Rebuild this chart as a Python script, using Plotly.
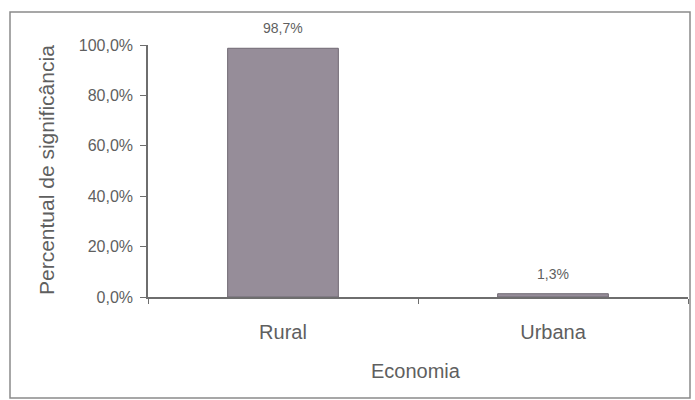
import plotly.graph_objects as go

# Data
categories = ["Rural", "Urbana"]
values = [98.7, 1.3]
value_labels = ["98,7%", "1,3%"]
y_ticks = [0, 20, 40, 60, 80, 100]
y_tick_labels = ["0,0%", "20,0%", "40,0%", "60,0%", "80,0%", "100,0%"]

W, H = 695, 400
L, R, T, B = 148, 7, 45, 103  # plot-area margins (px)
PW, PH = W - L - R, H - T - B

def px_x(x):
    return (x - L) / PW

def px_y(y):
    return (H - B - y) / PH

font_family = "Liberation Sans, Arial, sans-serif"
text_col = "#5f5f5f"
axis_col = "#6e6e6e"

fig = go.Figure()
fig.add_trace(go.Bar(
    x=categories,
    y=values,
    width=0.41,
    marker=dict(color="#968d99", line=dict(color="#6f6873", width=1)),
    hoverinfo="skip",
))

annotations = []
for c, v, t in zip(categories, values, value_labels):
    annotations.append(dict(
        x=c, y=v, xref="x", yref="y", text=t, showarrow=False,
        yanchor="bottom", yshift=10,
        font=dict(family=font_family, size=14, color=text_col),
    ))

# axis titles
annotations.append(dict(
    x=px_x(46), y=px_y(170), xref="paper", yref="paper",
    text="Percentual de significância", textangle=-90, showarrow=False,
    xanchor="center", yanchor="middle",
    font=dict(family=font_family, size=21, color=text_col),
))
annotations.append(dict(
    x=px_x(416), y=px_y(371), xref="paper", yref="paper",
    text="Economia", showarrow=False, xanchor="center", yanchor="middle",
    font=dict(family=font_family, size=20, color=text_col),
))

# outer chart frame
shapes = [dict(
    type="rect", xref="paper", yref="paper",
    x0=px_x(10), x1=px_x(690), y0=px_y(398), y1=px_y(12),
    line=dict(color="#8a8a8a", width=1.5), layer="below",
)]

fig.update_layout(
    width=W, height=H,
    margin=dict(l=L, r=R, t=T, b=B, pad=0),
    paper_bgcolor="white", plot_bgcolor="white",
    showlegend=False,
    bargap=0.59,
    annotations=annotations,
    shapes=shapes,
    xaxis=dict(
        type="category",
        showline=True, linecolor=axis_col, linewidth=1.5,
        ticks="outside", tickson="boundaries", ticklen=5, tickcolor=axis_col,
        ticklabelstandoff=16,
        tickfont=dict(family=font_family, size=20, color=text_col),
        showgrid=False, zeroline=False, fixedrange=True,
    ),
    yaxis=dict(
        range=[0, 100],
        tickvals=y_ticks,
        ticktext=y_tick_labels,
        showline=True, linecolor=axis_col, linewidth=1.5,
        ticks="outside", ticklen=6, tickcolor=axis_col,
        ticklabelstandoff=4,
        tickfont=dict(family=font_family, size=16, color=text_col),
        showgrid=False, zeroline=False, fixedrange=True,
    ),
)

fig.write_html("out.html")
